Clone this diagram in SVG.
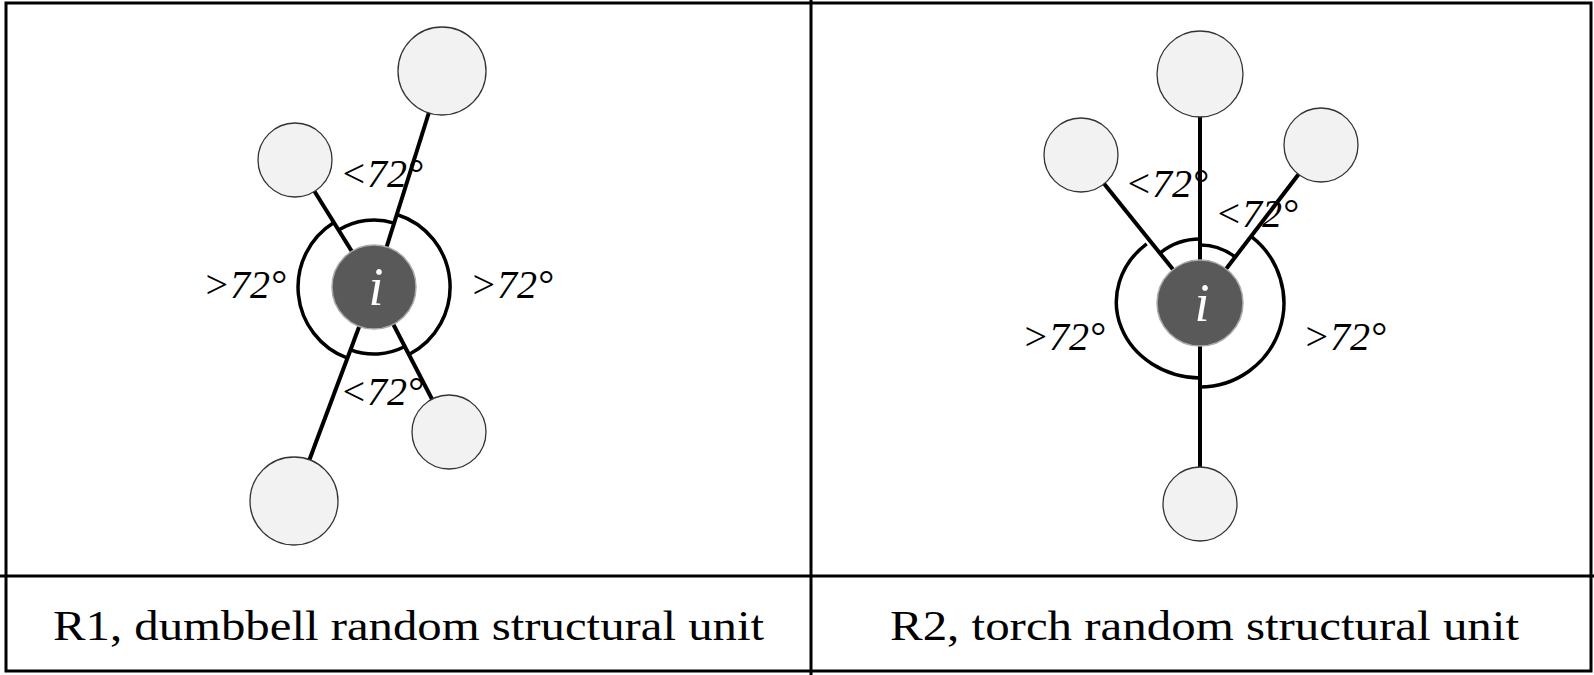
<svg xmlns="http://www.w3.org/2000/svg" width="1594" height="675" viewBox="0 0 1594 675">
<style>
.sat{fill:#f2f2f2;stroke:#333;stroke-width:1.3}
.ctr{fill:#595959;stroke:#aaa;stroke-width:1.5}
.ln{stroke:#000;stroke-width:4;fill:none}
.arc{stroke:#000;stroke-width:3.5;fill:none}
.ang{font-family:"Liberation Serif",serif;font-style:italic;font-size:40px;fill:#000}
.ii{font-family:"Liberation Serif",serif;font-style:italic;font-size:54px;fill:#fff;text-anchor:middle}
.cap{font-family:"Liberation Serif",serif;font-size:42px;fill:#000}
.frame{stroke:#000;stroke-width:3;fill:none}
</style>
<rect width="1594" height="675" fill="#fff"/>
<g id="frame">
<rect class="frame" x="6" y="3" width="1585" height="668"/>
<line class="frame" x1="0" y1="576" x2="1594" y2="576"/>
<line class="frame" x1="811" y1="0" x2="811" y2="675"/>
</g>
<g id="connectors">
<line class="ln" x1="374" y1="287" x2="295" y2="160"/>
<line class="ln" x1="374" y1="287" x2="442" y2="71"/>
<line class="ln" x1="374" y1="287" x2="449" y2="432"/>
<line class="ln" x1="374" y1="287" x2="294" y2="501"/>
<path class="arc" d="M338.6,230.1 A67 67 0 0 1 394.2,223.1"/>
<path class="arc" d="M396.9,214.5 A76 76 0 0 1 409,354.5"/>
<path class="arc" d="M404.8,346.5 A67 67 0 0 1 350.5,349.8"/>
<path class="arc" d="M347.4,358.2 A76 76 0 0 1 333.9,222.5"/>
<line class="ln" x1="1200" y1="74" x2="1200" y2="504"/>
<line class="ln" x1="1200" y1="303" x2="1081" y2="155"/>
<line class="ln" x1="1200" y1="303" x2="1321" y2="145"/>
<path class="arc" d="M1159.9,253.1 A64 64 0 0 1 1200,239"/>
<path class="arc" d="M1200,245 A58 58 0 0 1 1235.3,257"/>
<path class="arc" d="M1251.1,236.4 A84 84 0 0 1 1200,387"/>
<path class="arc" d="M1200,378 A85 76 0 0 1 1146.7,243.8"/>
</g>
<g id="r1-nodes">
<circle class="sat" cx="442" cy="71" r="44"/>
<circle class="sat" cx="295" cy="160" r="37"/>
<circle class="sat" cx="449" cy="432" r="37"/>
<circle class="sat" cx="294" cy="501" r="44"/>
<g id="r1-center"><circle class="ctr" cx="374" cy="287" r="42"/><text class="ii" x="376" y="305">i</text></g>
</g>
<g id="r1-labels">
<text class="ang" x="340" y="187">&lt;72°</text>
<text class="ang" x="203" y="298">&gt;72°</text>
<text class="ang" x="470" y="298">&gt;72°</text>
<text class="ang" x="340" y="405">&lt;72°</text>
</g>
<g id="r2-nodes">
<circle class="sat" cx="1200" cy="74" r="43"/>
<circle class="sat" cx="1081" cy="155" r="37"/>
<circle class="sat" cx="1321" cy="145" r="37"/>
<circle class="sat" cx="1200" cy="504" r="37"/>
<g id="r2-center"><circle class="ctr" cx="1200" cy="303" r="43"/><text class="ii" x="1202" y="321">i</text></g>
</g>
<g id="r2-labels">
<text class="ang" x="1125" y="197">&lt;72°</text>
<text class="ang" x="1215" y="227">&lt;72°</text>
<text class="ang" x="1022" y="350">&gt;72°</text>
<text class="ang" x="1303" y="350">&gt;72°</text>
</g>
<g id="captions">
<text class="cap" x="53" y="640" textLength="711" lengthAdjust="spacingAndGlyphs">R1, dumbbell random structural unit</text>
<text class="cap" x="890" y="640" textLength="629" lengthAdjust="spacingAndGlyphs">R2, torch random structural unit</text>
</g>
</svg>
